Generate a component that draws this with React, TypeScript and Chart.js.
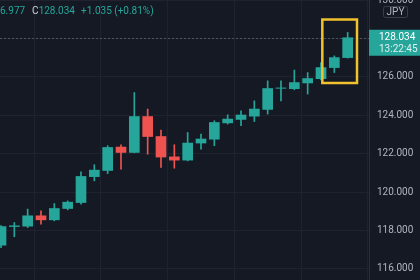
import React, { useEffect, useRef } from "react";
import { Chart, registerables } from "chart.js";

Chart.register(...registerables);

const opens = [117.23, 118.2, 118.22, 118.76, 118.55, 119.14, 119.45, 120.8, 121.12, 122.34, 122.06, 123.93, 122.89, 121.83, 121.66, 122.55, 122.75, 123.6, 123.78, 123.95, 124.3, 125.4, 125.38, 125.68, 125.9, 126.48, 127.0];
const highs = [118.25, 118.41, 119.11, 119.02, 119.4, 119.54, 121.05, 121.42, 122.41, 122.46, 125.18, 124.32, 123.22, 122.46, 123.1, 123.02, 123.71, 124.02, 124.23, 124.75, 125.79, 125.79, 126.35, 126.22, 126.74, 127.09, 128.31];
const lows = [117.1, 117.67, 118.15, 118.33, 118.5, 119.07, 119.37, 120.58, 120.96, 121.19, 122.04, 121.97, 121.28, 121.24, 121.62, 122.23, 122.41, 123.54, 123.45, 123.67, 124.06, 124.75, 125.32, 125.1, 125.84, 126.22, 126.977];
const closes = [118.2, 118.24, 118.76, 118.55, 119.14, 119.47, 120.81, 121.14, 122.32, 122.06, 123.93, 122.89, 121.82, 121.66, 122.55, 122.76, 123.62, 123.8, 124.01, 124.32, 125.39, 125.42, 125.7, 125.91, 126.48, 127.0, 128.034];

const headerLow = "L126.977";
const headerClose = "128.034";
const headerChange = "+1.035 (+0.81%)";
const currency = "JPY";
const lastTime = "13:22:45";
const lastPrice = 128.034;

const boxX = [24.1, 26.7];
const boxY = [125.677, 128.984];

const UP = "#26a69a";
const DOWN = "#ef5350";
const BG = "#151924";
const GRID = "#1f2330";
const FONT = "Roboto";

const overlay = {
  id: "overlay",
  beforeDraw(chart: any) {
    const { ctx, width, height } = chart;
    ctx.save();
    ctx.fillStyle = BG;
    ctx.fillRect(0, 0, width, height);
    ctx.restore();
  },
  beforeDatasetsDraw(chart: any) {
    const { ctx, chartArea, scales } = chart;
    const y = scales.y.getPixelForValue(lastPrice);
    ctx.save();
    ctx.strokeStyle = "rgba(110,125,135,0.55)";
    ctx.lineWidth = 1;
    ctx.setLineDash([2, 2]);
    ctx.beginPath();
    ctx.moveTo(chartArea.left, Math.round(y) + 0.5);
    ctx.lineTo(chartArea.right, Math.round(y) + 0.5);
    ctx.stroke();
    ctx.restore();
  },
  afterDraw(chart: any) {
    const { ctx, chartArea, scales, width } = chart;
    const xs = scales.x;
    const ys = scales.y;
    ctx.save();
    // highlight box
    const x0 = xs.getPixelForValue(boxX[0]);
    const x1 = xs.getPixelForValue(boxX[1]);
    const y0 = ys.getPixelForValue(boxY[1]);
    const y1 = ys.getPixelForValue(boxY[0]);
    ctx.strokeStyle = "#f2c12e";
    ctx.lineWidth = 2.5;
    ctx.strokeRect(x0, y0, x1 - x0, y1 - y0);

    // price label
    const py = ys.getPixelForValue(lastPrice);
    ctx.fillStyle = UP;
    ctx.fillRect(chartArea.right, py - 8, width - chartArea.right, 26);
    ctx.fillStyle = "#ffffff";
    ctx.font = `10px ${FONT}`;
    ctx.textBaseline = "middle";
    ctx.textAlign = "left";
    ctx.fillText(lastPrice.toFixed(3), chartArea.right + 10, py);
    ctx.fillStyle = "#e0f2f1";
    ctx.fillText(lastTime, chartArea.right + 10, py + 12);

    // currency box
    ctx.fillStyle = BG;
    ctx.strokeStyle = "#3a3e4a";
    ctx.lineWidth = 1;
    ctx.beginPath();
    (ctx as any).roundRect(383.5, 6.5, 24, 11, 2);
    ctx.fill();
    ctx.stroke();
    ctx.fillStyle = "#b2b5be";
    ctx.textAlign = "center";
    ctx.fillText(currency, 395.5, 12.5);

    // header
    ctx.textAlign = "left";
    ctx.font = `10px ${FONT}`;
    const w12 = ctx.measureText(headerLow.slice(0, 3)).width;
    let x = -w12;
    ctx.fillStyle = UP;
    ctx.fillText(headerLow, x, 11);
    x += ctx.measureText(headerLow).width + 7;
    ctx.fillStyle = "#d1d4dc";
    ctx.fillText("C", x, 11);
    x += ctx.measureText("C").width;
    ctx.fillStyle = UP;
    ctx.fillText(headerClose, x, 11);
    x += ctx.measureText(headerClose).width + 6;
    ctx.fillText(headerChange, x, 11);
    ctx.restore();
  },
};

const noPad = (s: any) => {
  s.paddingTop = 0;
  s.paddingBottom = 0;
  s.paddingLeft = 0;
  s.paddingRight = 0;
};

export default function App() {
  const ref = useRef<HTMLCanvasElement | null>(null);
  useEffect(() => {
    document.body.style.margin = "0";
    document.body.style.background = BG;
    const canvas = ref.current!;
    const color = (i: number) => (closes[i] >= opens[i] ? UP : DOWN);
    const chart = new Chart(canvas, {
      type: "bar",
      data: {
        datasets: [
          {
            label: "wicks",
            data: highs.map((h, i) => ({ x: i, y: [lows[i], h] })) as any,
            backgroundColor: highs.map((_, i) => color(i)),
            barThickness: 1,
            grouped: false,
            order: 2,
            borderWidth: 0,
          },
          {
            label: "bodies",
            data: opens.map((o, i) => ({ x: i, y: [o, closes[i]] })) as any,
            backgroundColor: opens.map((_, i) => color(i)),
            barThickness: 10,
            grouped: false,
            order: 1,
            borderWidth: 0,
          },
        ],
      },
      options: {
        animation: false,
        responsive: false,
        devicePixelRatio: 1,
        layout: { padding: 0, autoPadding: false },
        plugins: { legend: { display: false }, tooltip: { enabled: false } },
        scales: {
          x: {
            type: "linear",
            offset: false,
            min: -0.075,
            max: 27.6,
            ticks: { display: false, stepSize: 5, includeBounds: false },
            grid: { color: GRID, drawTicks: false },
            border: { display: false },
            afterFit: (s: any) => {
              noPad(s);
              s.height = 0;
            },
          },
          y: {
            position: "right",
            min: 115.4167,
            max: 130,
            ticks: {
              stepSize: 2,
              includeBounds: false,
              padding: 8,
              color: "#b2b5be",
              font: { family: FONT, size: 10 },
              callback: (v: any) => Number(v).toFixed(3),
            },
            grid: { color: GRID, drawTicks: false },
            border: { display: true, color: "#2a2e39" },
            afterFit: (s: any) => {
              noPad(s);
              s.width = 51;
            },
          },
        },
      } as any,
      plugins: [overlay],
    });
    return () => chart.destroy();
  }, []);
  return (
    <div style={{ position: "fixed", left: 0, top: 0, width: 420, height: 280 }}>
      <canvas ref={ref} width={420} height={280} style={{ display: "block" }} />
    </div>
  );
}
